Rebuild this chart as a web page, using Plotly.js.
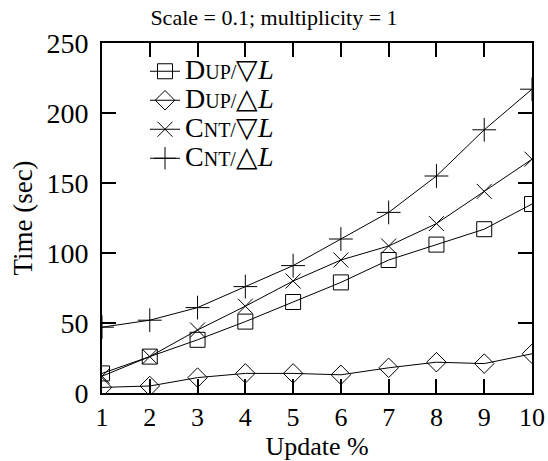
<!DOCTYPE html>
<html>
<head>
<meta charset="utf-8">
<script src="https://cdn.plot.ly/plotly-3.0.1.min.js"></script>
<style>html,body{margin:0;padding:0;background:#fff;}#chart{width:548px;height:461px;}</style>
</head>
<body>
<div id="chart"></div>
<script>
const updatePct = [1, 2, 3, 4, 5, 6, 7, 8, 9, 10];
const dupNabla = [14, 26, 38, 51, 65, 79, 95, 106, 117, 135];
const dupDelta = [4, 5, 11, 14, 14, 13, 18, 22, 21, 28];
const cntNabla = [12, 26, 45, 62, 80, 95, 105, 121, 144, 167];
const cntDelta = [47, 52, 61, 76, 91, 110, 129, 155, 188, 217];
const big = "<span style='font-size:28px'>";
const seriesNames = [
  big + "D</span>UP/" + big + "▽</span><i>" + big + "L</span></i>",
  big + "D</span>UP/" + big + "△</span><i>" + big + "L</span></i>",
  big + "C</span>NT/" + big + "▽</span><i>" + big + "L</span></i>",
  big + "C</span>NT/" + big + "△</span><i>" + big + "L</span></i>"
];
const yTicks = [0, 50, 100, 150, 200, 250];

const font = "Liberation Serif";
function tr(y, name, sym, size) {
  return {
    x: updatePct, y: y, name: name, type: 'scatter', mode: 'lines+markers',
    line: {color: '#000', width: 1},
    marker: {symbol: sym, size: size, color: '#000', line: {color: '#000', width: 1}}
  };
}
const data = [
  tr(dupNabla, seriesNames[0], 'square-open', 15),
  tr(dupDelta, seriesNames[1], 'diamond-open', 15),
  tr(cntNabla, seriesNames[2], 'x-thin-open', 15),
  tr(cntDelta, seriesNames[3], 'cross-thin-open', 17)
];
const layout = {
  width: 548, height: 461,
  margin: {l: 102, r: 16, t: 43, b: 68},
  paper_bgcolor: '#fff', plot_bgcolor: '#fff',
  font: {family: font, color: '#000', size: 20},
  title: {text: 'Scale = 0.1; multiplicity = 1', font: {family: font, size: 22, color: '#000'}, x: 0.5, xanchor: 'center', y: 0.963, yanchor: 'middle'},
  showlegend: true,
  legend: {x: 0.1, y: 0.975, xanchor: 'left', yanchor: 'top', bgcolor: 'rgba(0,0,0,0)', font: {family: font, size: 20, color: '#000'}, tracegroupgap: 0},
  xaxis: {
    range: [1, 10], tickvals: updatePct, ticks: 'inside', ticklen: 14, tickwidth: 2, tickcolor: '#000',
    showline: true, linewidth: 2, linecolor: '#000', mirror: 'ticks', showgrid: false, zeroline: false,
    tickfont: {family: font, size: 26, color: '#000'},
    title: {text: 'Update %', font: {family: font, size: 26, color: '#000'}, standoff: 2}
  },
  yaxis: {
    range: [0, 250], tickvals: yTicks, ticks: 'inside', ticklen: 14, tickwidth: 2, tickcolor: '#000',
    showline: true, linewidth: 2, linecolor: '#000', mirror: 'ticks', showgrid: false, zeroline: false,
    tickfont: {family: font, size: 28, color: '#000'}, ticklabelstandoff: 6,
    title: {text: 'Time (sec)', font: {family: font, size: 27, color: '#000'}, standoff: 6}
  }
};
Plotly.newPlot('chart', data, layout, {displayModeBar: false, staticPlot: true});
</script>
</body>
</html>
